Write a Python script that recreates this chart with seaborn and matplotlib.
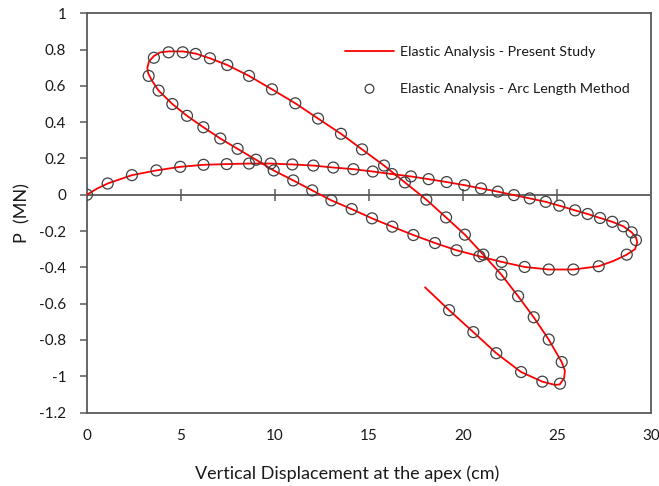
import numpy as np
import pandas as pd
import matplotlib
matplotlib.use("Agg")
import matplotlib.pyplot as plt
import seaborn as sns

# Arc length method results (circles), in path order
arc_x = [0, 1.10, 2.39, 3.69, 4.96, 6.20, 7.43, 8.62, 9.77, 10.92, 12.04, 13.10, 14.17,
         15.20, 16.22, 17.23, 18.17, 19.13, 20.07, 20.96, 21.85, 22.71, 23.55, 24.40,
         25.12, 25.96, 26.63, 27.29, 27.94, 28.53, 28.97, 29.20, 28.71, 27.22, 25.87,
         24.56, 23.28, 22.06, 20.87, 19.66, 18.51, 17.36, 16.24, 15.16, 14.08, 13.00,
         11.98, 10.97, 9.93, 8.99, 8.01, 7.09, 6.19, 5.32, 4.54, 3.81, 3.28, 3.56, 4.34,
         5.09, 5.78, 6.54, 7.46, 8.62, 9.84, 11.08, 12.29, 13.51, 14.63, 15.80, 16.91,
         18.05, 19.10, 20.10, 21.08, 22.04, 22.93, 23.76, 24.56, 25.25, 25.16, 24.22,
         23.09, 21.77, 20.55, 19.26]
arc_p = [0, 0.062, 0.108, 0.134, 0.154, 0.165, 0.169, 0.172, 0.172, 0.167, 0.161, 0.150,
         0.141, 0.128, 0.114, 0.101, 0.086, 0.070, 0.053, 0.035, 0.017, -0.002, -0.020,
         -0.039, -0.060, -0.086, -0.106, -0.128, -0.149, -0.174, -0.207, -0.250, -0.330,
         -0.394, -0.412, -0.412, -0.398, -0.370, -0.339, -0.306, -0.266, -0.222, -0.176,
         -0.130, -0.079, -0.031, 0.024, 0.079, 0.134, 0.193, 0.253, 0.310, 0.372, 0.435,
         0.500, 0.574, 0.655, 0.755, 0.785, 0.785, 0.776, 0.752, 0.715, 0.655, 0.581,
         0.504, 0.420, 0.336, 0.250, 0.161, 0.068, -0.027, -0.125, -0.220, -0.330,
         -0.440, -0.559, -0.675, -0.798, -0.922, -1.041, -1.030, -0.977, -0.873, -0.757,
         -0.636]

# Present study curve (red line)
study_x = [0, 0.50, 1.10, 2.39, 3.69, 4.96, 6.20, 7.43, 8.62, 9.77, 10.92, 12.04, 13.10,
           14.17, 15.20, 16.22, 17.23, 18.17, 19.13, 20.07, 20.96, 21.85, 22.71, 23.55,
           24.40, 25.12, 25.96, 26.63, 27.29, 27.94, 28.53, 28.97, 29.20, 29.27, 29.15,
           28.71, 28.00, 27.22, 25.87, 24.56, 23.28, 22.06, 20.87, 19.66, 18.51, 17.36,
           16.24, 15.16, 14.08, 13.00, 11.98, 10.97, 9.93, 8.99, 8.01, 7.09, 6.19, 5.32,
           4.54, 3.81, 3.45, 3.25, 3.21, 3.30, 3.56, 3.90, 4.34, 5.09, 5.78, 6.54, 7.46,
           8.62, 9.84, 11.08, 12.29, 13.51, 14.63, 15.80, 16.91, 18.05, 19.10, 20.10,
           21.08, 22.04, 22.93, 23.76, 24.56, 25.25, 25.42, 25.38, 25.15, 24.90, 24.22,
           23.09, 21.77, 20.55, 19.26, 17.98]
study_p = [0, 0.032, 0.062, 0.108, 0.134, 0.154, 0.165, 0.169, 0.172, 0.172, 0.167, 0.161,
           0.150, 0.141, 0.128, 0.114, 0.101, 0.086, 0.070, 0.053, 0.035, 0.017, -0.002,
           -0.020, -0.039, -0.060, -0.086, -0.106, -0.128, -0.149, -0.174, -0.207, -0.235,
           -0.262, -0.300, -0.330, -0.365, -0.394, -0.412, -0.412, -0.398, -0.370, -0.339,
           -0.306, -0.266, -0.222, -0.176, -0.130, -0.079, -0.031, 0.024, 0.079, 0.134,
           0.193, 0.253, 0.310, 0.372, 0.435, 0.500, 0.574, 0.630, 0.670, 0.700, 0.735,
           0.765, 0.785, 0.790, 0.790, 0.778, 0.752, 0.715, 0.655, 0.581, 0.504, 0.420,
           0.336, 0.250, 0.161, 0.068, -0.027, -0.125, -0.220, -0.330, -0.440, -0.559,
           -0.675, -0.798, -0.922, -0.970, -1.010, -1.045, -1.048, -1.030, -0.977, -0.873,
           -0.757, -0.636, -0.510]

x_ticks = [0, 5, 10, 15, 20, 25, 30]
y_ticks = [-1.2, -1, -0.8, -0.6, -0.4, -0.2, 0, 0.2, 0.4, 0.6, 0.8, 1]
y_tick_labels = ["-1.2", "-1", "-0.8", "-0.6", "-0.4", "-0.2", "0", "0.2", "0.4", "0.6", "0.8", "1"]

study = pd.DataFrame({"x": study_x, "p": study_p})
arc = pd.DataFrame({"x": arc_x, "p": arc_p})

sns.set_style("white")
plt.rcParams["font.family"] = ["Lato", "DejaVu Sans"]
grey = "#595959"
ink = "#1a1a1a"

fig = plt.figure(figsize=(6.59, 4.86), dpi=100)
ax = fig.add_axes([87 / 659, 1 - 412.5 / 486, 564 / 659, 399.2 / 486])

# zero line with crossing tick marks
ax.axhline(0, color=grey, lw=1.3, zorder=1)
ax.plot(x_ticks[1:-1], [0] * 5, ls="none", marker="|", ms=9, mew=1.1, color=grey, zorder=1)

sns.lineplot(data=study, x="x", y="p", sort=False, estimator=None, color="#ff0000",
             lw=1.3, ax=ax, label="Elastic Analysis - Present Study", zorder=3)
sns.scatterplot(data=arc, x="x", y="p", marker="o", s=62, facecolor="none",
                edgecolor="#404040", linewidth=0.9, ax=ax,
                label="Elastic Analysis - Arc Length Method", zorder=4)

ax.set_xlim(0, 30)
ax.set_ylim(-1.2, 1)
ax.set_xticks(x_ticks)
ax.set_yticks(y_ticks)
ax.set_xticklabels([str(t) for t in x_ticks])
ax.set_yticklabels(y_tick_labels)
ax.tick_params(axis="x", length=0, pad=12, labelsize=11, labelcolor=ink)
ax.tick_params(axis="y", length=5, width=1.1, color=grey, direction="out", pad=10,
               labelsize=11, labelcolor=ink, left=True)
for s in ax.spines.values():
    s.set_color(grey)
    s.set_linewidth(1.3)

ax.set_xlabel("Vertical Displacement at the apex (cm)", fontsize=13, color=ink)
ax.xaxis.set_label_coords((347 - 87) / 564, -(465 - 412.5) / 399.2)
ax.set_ylabel("P  (MN)", fontsize=13, color=ink)
ax.yaxis.set_label_coords(-(87 - 30) / 564, 0.5)

leg = ax.legend(loc="upper left", bbox_to_anchor=(338 / 659, 1 - 39 / 486),
                bbox_transform=fig.transFigure, frameon=False, fontsize=10.3,
                handlelength=3.4, handletextpad=0.45, labelspacing=1.7, borderpad=0)
for t in leg.get_texts():
    t.set_color(ink)
leg.legend_handles[1].set_sizes([40])

fig.savefig("out.png", dpi=100)
